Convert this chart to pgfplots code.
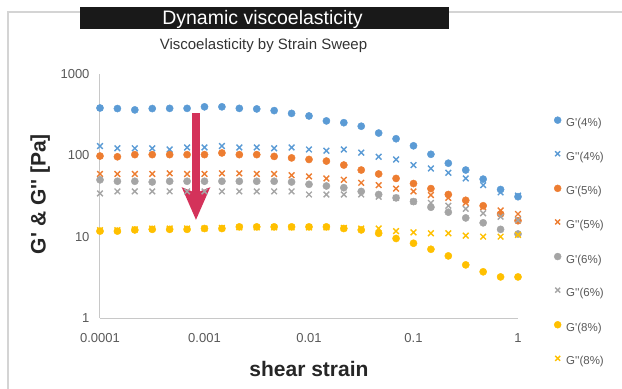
\documentclass[border=0pt]{standalone}
\usepackage{fontspec}
\setmainfont{Liberation Sans}
\usepackage{pgfplots}
\usepackage{pgfplotstable}
\pgfplotsset{compat=1.18}
\usetikzlibrary{arrows.meta}
\definecolor{cB}{HTML}{5B9BD5}
\definecolor{cO}{HTML}{ED7D31}
\definecolor{cG}{HTML}{A5A5A5}
\definecolor{cY}{HTML}{FFC000}
\definecolor{cR}{HTML}{D4325A}
\definecolor{tickc}{HTML}{595959}
\definecolor{labc}{HTML}{262626}
\definecolor{axl}{HTML}{C8C8C8}
\definecolor{frame}{HTML}{D4D4D4}
\newcommand\q{\textquotesingle}
\pgfplotstableread{
x        g4   gg4  g5   gg5  g6   gg6  g8   gg8
0.0001   382  130  98   59   50   34   11.7 12.0
0.0001468 376 122  96   59   48   36   11.7 12.0
0.0002154 362 122  102  59   48   36   12.1 12.3
0.0003162 376 122  102  59   47   36   12.3 12.6
0.0004642 378 118  102  60   48   36   12.3 12.6
0.0006813 378 125  102  59   48   36   12.3 12.6
0.001    395  125  102  59   48   36   12.6 12.6
0.001468 395  130  107  60   48   36   12.6 12.8
0.002154 378  125  102  60   48   36   13.2 13.0
0.003162 372  125  102  59   48   36   13.2 13.0
0.004642 355  122  97   59   48   36   13.2 13.0
0.006813 328  125  93   57   47   36   13.2 13.0
0.01     305  118  89   55   44   33   13.2 13.0
0.01468  265  114  85   52   42   33   13.2 13.0
0.02154  252  118  76   50   40   33   12.6 12.8
0.03162  228  108  66   46   36   33   12.1 12.6
0.04642  188  96   59   43   33   31   11.0 12.6
0.06813  160  89   52   39   30   30   9.5  11.7
0.1      131  76   45   36   27   27   8.3  11.3
0.1468   103  69   39   32.5 23   26   7.0  11.0
0.2154   80   61   33   30   20   24   5.8  11.0
0.3162   66   52   28   26   17   22   4.5  10.3
0.4642   51   43   24   23   14.8 19.4 3.7  10.0
0.6813   38   35   19   21   12.3 17.6 3.2  10.0
1        31   32   15.7 19   10.8 16   3.2  10.5
}\data
\begin{document}
\begin{tikzpicture}
\path[use as bounding box] (-100bp,-71bp) rectangle (522bp,318bp);
\begin{axis}[
  at={(0,0)}, anchor=south west, scale only axis,
  width=418bp, height=244bp,
  xmode=log, ymode=log, xmin=1e-4, xmax=1, ymin=1, ymax=1000,
  axis x line*=bottom, axis y line*=left,
  axis line style={axl, line width=1bp},
  xtick={0.0001,0.001,0.01,0.1,1}, xticklabels={0.0001,0.001,0.01,0.1,1},
  ytick={1,10,100,1000}, yticklabels={1,10,100,1000},
  minor xtick={}, minor ytick={},
  major tick length=0pt, minor tick length=0pt,
  tick label style={font=\fontsize{13bp}{15bp}\selectfont, text=tickc},
  yticklabel style={xshift=-7bp},
  xticklabel style={yshift=-12bp},
  xlabel={shear strain}, ylabel={G\q\ \& G\q\q\ [Pa]},
  label style={font=\fontsize{21bp}{24bp}\selectfont\bfseries, text=labc},
  xlabel style={at={(axis description cs:0.5,-0.209)}, anchor=center},
  ylabel style={at={(axis description cs:-0.143,0.508)}, anchor=center},
  clip=false,
  legend style={at={(1.0861,0.826)}, anchor=north west, draw=none, fill=none,
    inner sep=0pt, row sep=21.6bp, column sep=5bp,
    font=\fontsize{11.5bp}{13bp}\selectfont, text=tickc,
    nodes={inner sep=0pt, text height=9bp, text depth=3bp}},
  legend cell align=left,
  legend image code/.code={\draw[#1, mark size=3.5bp] plot coordinates {(0bp,3.5bp)};},
]
\addplot[only marks, mark=*, color=cB, mark size=3.6bp] table[x=x,y=g4] {\data};
\addlegendentry{G\q(4\%)}
\addplot[only marks, mark=x, color=cB, mark size=4bp, line width=1.4bp] table[x=x,y=gg4] {\data};
\addlegendentry{G\q\q(4\%)}
\addplot[only marks, mark=*, color=cO, mark size=3.6bp] table[x=x,y=g5] {\data};
\addlegendentry{G\q(5\%)}
\addplot[only marks, mark=x, color=cO, mark size=4bp, line width=1.4bp] table[x=x,y=gg5] {\data};
\addlegendentry{G\q\q(5\%)}
\addplot[only marks, mark=*, color=cG, mark size=3.6bp] table[x=x,y=g6] {\data};
\addlegendentry{G\q(6\%)}
\addplot[only marks, mark=x, color=cG, mark size=4bp, line width=1.4bp] table[x=x,y=gg6] {\data};
\addlegendentry{G\q\q(6\%)}
\addplot[only marks, mark=*, color=cY, mark size=3.6bp] table[x=x,y=g8] {\data};
\addlegendentry{G\q(8\%)}
\addplot[only marks, mark=x, color=cY, mark size=4bp, line width=1.4bp] table[x=x,y=gg8] {\data};
\addlegendentry{G\q\q(8\%)}
\draw[cR, line width=8bp, -{Stealth[width=27bp, length=32bp, inset=5bp]}]
  (axis cs:0.000829,331) -- (axis cs:0.000829,16);
\end{axis}
\draw[frame, line width=1.5bp] (522bp,306bp) -- (-92bp,306bp) -- (-92bp,-71bp);
\fill[black!90] (-20bp,289bp) rectangle (349bp,311bp);
\node[text=white, font=\fontsize{19.5bp}{22bp}\selectfont, inner sep=0pt] at (162.5bp,299bp) {Dynamic viscoelasticity};
\node[text=black!80, font=\fontsize{15bp}{18bp}\selectfont, inner sep=0pt] at (163.5bp,272bp) {Viscoelasticity by Strain Sweep};
\end{tikzpicture}
\end{document}
